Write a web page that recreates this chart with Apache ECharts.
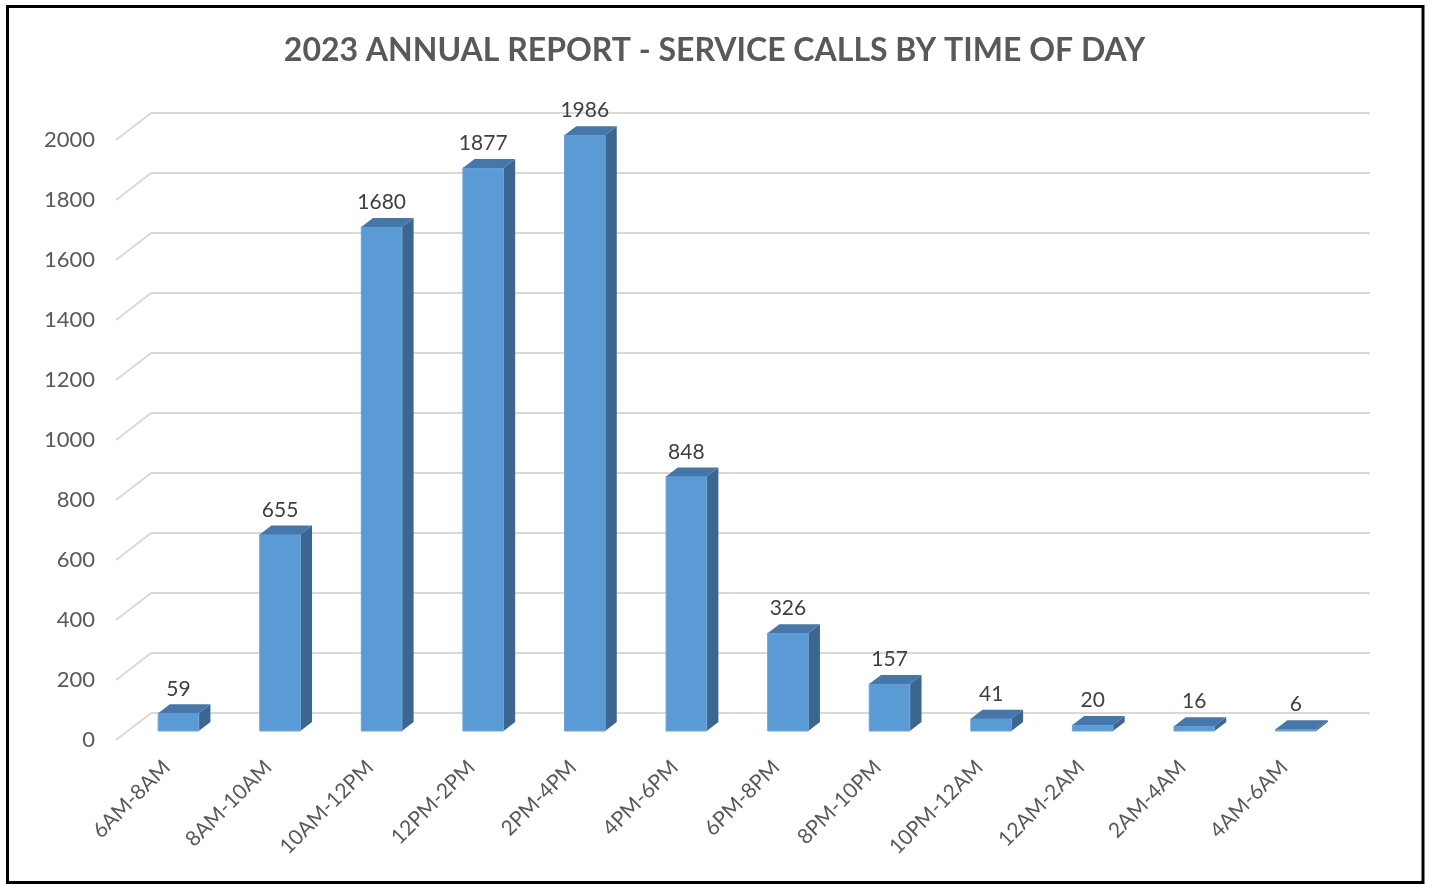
<!DOCTYPE html>
<html>
<head>
<meta charset="utf-8">
<style>
html,body{margin:0;padding:0;background:#fff;}
#chart{width:1429px;height:884px;}
</style>
<script src="https://cdn.jsdelivr.net/npm/echarts@6/dist/echarts.min.js"></script>
</head>
<body>
<div id="chart"></div>
<script>
var titleText = '2023 ANNUAL REPORT - SERVICE CALLS BY TIME OF DAY';
var categories = ['6AM-8AM','8AM-10AM','10AM-12PM','12PM-2PM','2PM-4PM','4PM-6PM','6PM-8PM','8PM-10PM','10PM-12AM','12AM-2AM','2AM-4AM','4AM-6AM'];
var calls = [59, 655, 1680, 1877, 1986, 848, 326, 157, 41, 20, 16, 6];
var yTicks = [0, 200, 400, 600, 800, 1000, 1200, 1400, 1600, 1800, 2000];

var DX = -35, DY = 27; // back wall -> front plane offset
var FONT = 'Lato, "Open Sans", sans-serif';

var chart = echarts.init(document.getElementById('chart'));

function diagItem(params, api) {
  var v = api.value(0);
  var cs = params.coordSys;
  var y = api.coord([0, v])[1];
  var x = cs.x;
  return {
    type: 'line',
    shape: {x1: x, y1: y, x2: x + DX, y2: y + DY},
    style: {stroke: '#d9d9d9', lineWidth: 2}
  };
}

function barItem(params, api) {
  var i = api.value(0), v = api.value(1);
  var base = api.coord([i, 0]);
  var top = api.coord([i, v]);
  var bw = api.size([1, 0])[0] * 0.4;
  var fx = base[0] + DX * 2 / 3, fy = DY * 2 / 3;
  var bx = DX / 3, by = DY / 3;
  var bdx = bx - DX * 2 / 3, bdy = by - DY * 2 / 3; // front -> back of bar
  var L = fx - bw / 2, R = fx + bw / 2;
  var T = top[1] + fy, B = base[1] + fy;
  return {
    type: 'group',
    children: [
      {type: 'polygon', shape: {points: [[R, T], [R + bdx, T + bdy], [R + bdx, B + bdy], [R, B]]},
        style: {fill: '#3b6690'}},
      {type: 'rect', shape: {x: L, y: T, width: bw, height: B - T},
        style: {fill: '#5b9bd5', stroke: '#6aa6dc', lineWidth: 1}},
      {type: 'polygon', shape: {points: [[L, T], [R, T], [R + bdx, T + bdy], [L + bdx, T + bdy]]},
        style: {fill: '#4677aa'}},
      {type: 'text', style: {text: String(v), x: fx, y: T + bdy - 5, align: 'center', verticalAlign: 'bottom',
        font: '21px ' + FONT, fill: '#404040'}}
    ]
  };
}

var option = {
  backgroundColor: '#fff',
  animation: false,
  title: {
    text: titleText, left: 'center', top: 30,
    textStyle: {fontFamily: FONT, fontSize: 32, fontWeight: 'bold', color: '#595959'}
  },
  graphic: [{
    type: 'rect', shape: {x: 7.5, y: 6.5, width: 1415.5, height: 876},
    style: {fill: 'none', stroke: '#000', lineWidth: 3}, silent: true, z: 100
  }],
  grid: [
    {left: 151, right: 59, top: 113, bottom: 171},
    {left: 116, right: 94, top: 140, bottom: 144}
  ],
  xAxis: [
    {type: 'category', gridIndex: 0, data: categories, axisLine: {show: false}, axisTick: {show: false}, axisLabel: {show: false}},
    {type: 'category', gridIndex: 1, data: categories, axisLine: {show: false}, axisTick: {show: false},
      axisLabel: {rotate: 45, margin: 24, fontFamily: FONT, fontSize: 21, color: '#595959', interval: 0}}
  ],
  yAxis: [
    {type: 'value', gridIndex: 0, min: 0, max: 2000, interval: 200, axisLine: {show: false}, axisTick: {show: false},
      axisLabel: {show: false}, splitLine: {lineStyle: {color: '#d9d9d9', width: 2}}},
    {type: 'value', gridIndex: 1, min: 0, max: 2000, interval: 200, axisLine: {show: false}, axisTick: {show: false},
      splitLine: {show: false},
      axisLabel: {margin: 21, fontFamily: FONT, fontSize: 22, color: '#595959', formatter: function (v) { return String(v); }}}
  ],
  series: [
    {type: 'custom', xAxisIndex: 0, yAxisIndex: 0, renderItem: diagItem, data: yTicks.map(function (t) { return [t]; }),
      encode: {y: 0}, silent: true, z: 1},
    {type: 'custom', xAxisIndex: 0, yAxisIndex: 0, renderItem: barItem,
      data: calls.map(function (v, i) { return [i, v]; }), encode: {x: 0, y: 1}, z: 5}
  ]
};
chart.setOption(option);
</script>
</body>
</html>
